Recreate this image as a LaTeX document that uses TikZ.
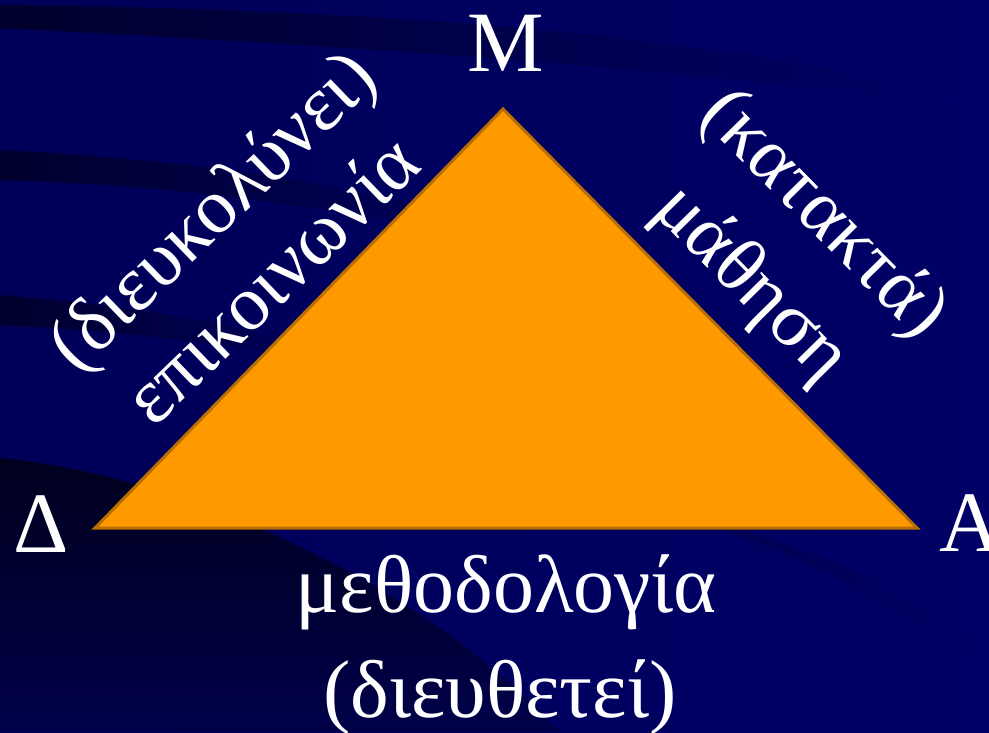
\documentclass[tikz,border=0pt]{standalone}
\usepackage{fontspec}
\setmainfont{Liberation Serif}
\definecolor{bgL}{HTML}{000058}
\definecolor{bgR}{HTML}{000066}
\definecolor{streak}{HTML}{00002C}
\definecolor{deep}{HTML}{00001E}
\definecolor{trifill}{HTML}{FF9900}
\definecolor{triedge}{HTML}{B86E00}
\tikzset{
  lbl/.style={text=white, inner sep=0pt, font=\fontsize{86}{100}\selectfont},
  sidetxt/.style={text=white, inner sep=0pt, anchor=base, font=\fontsize{78}{92}\selectfont},
  bottxt/.style={text=white, inner sep=0pt, anchor=base, font=\fontsize{82}{98}\selectfont},
  tri/.style={fill=trifill, draw=triedge, line width=3pt, line join=miter}
}
\begin{document}
\begin{tikzpicture}[x=1pt,y=-1pt]
\useasboundingbox (0,0) rectangle (989,732);
% background
\shade[left color=bgL, right color=bgR] (0,0) rectangle (989,732);
\shade[left color=streak, right color=bgR] (0,5) .. controls (330,8) and (700,30) .. (950,95) -- (950,108) .. controls (700,68) and (330,45) .. (0,28) -- cycle;
\shade[left color=streak, right color=bgL] (0,150) .. controls (200,160) and (350,185) .. (450,215) -- (450,228) .. controls (350,215) and (200,185) .. (0,180) -- cycle;
\shade[left color=streak, right color=bgL] (0,295) .. controls (120,305) and (220,320) .. (300,345) -- (300,355) .. controls (220,345) and (120,330) .. (0,325) -- cycle;
\shade[top color=deep, bottom color=bgL!75!deep] (0,458) .. controls (180,475) and (420,580) .. (560,732) -- (0,732) -- cycle;
\shade[left color=bgR!70!deep, right color=bgR] (700,520) .. controls (820,545) and (920,600) .. (989,650) -- (989,670) .. controls (920,620) and (820,565) .. (700,520) -- cycle;
% triangle
\coordinate (D) at (95,528);
\coordinate (M) at (503,109);
\coordinate (A) at (917,528);
\path[tri] (D) -- (M) -- (A) -- cycle;
% vertex labels
\node[lbl, anchor=base] (lM) at (506,71) {Μ};
\node[lbl, anchor=base] (lD) at (41,552) {Δ};
\node[lbl, anchor=base] (lA) at (971,551) {Α};
% left side
\node[sidetxt, rotate=44] (l1) at (229,228) {(διευκολύνει)};
\node[sidetxt, rotate=44] (l2) at (289,298) {επικοινωνία};
% right side
\node[sidetxt, rotate=-45.5] (r1) at (809,229) {(κατακτά)};
\node[sidetxt, rotate=-45.5] (r2) at (737,298) {μάθηση};
% bottom
\node[bottxt] (b1) at (506,612) {μεθοδολογία};
\node[bottxt] (b2) at (500,717) {(διευθετεί)};
\end{tikzpicture}
\end{document}
